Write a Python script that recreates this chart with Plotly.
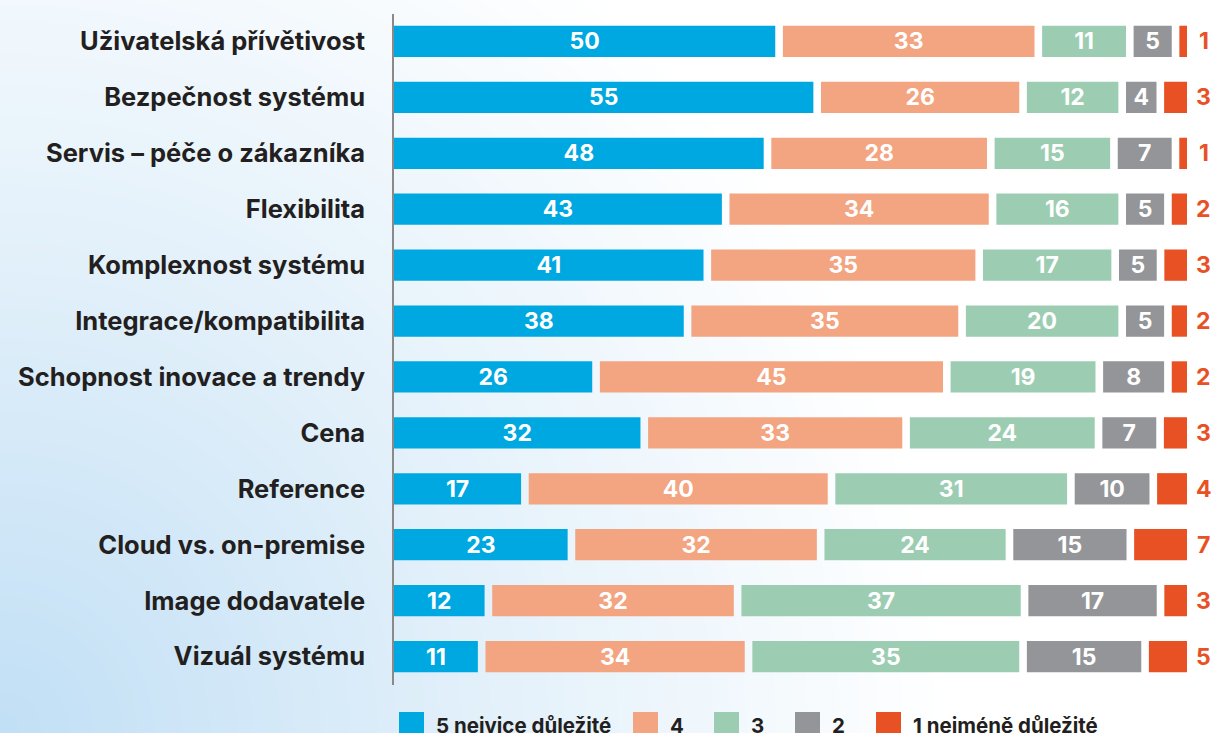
import numpy as np
import plotly.graph_objects as go

categories = ["Uživatelská přívětivost", "Bezpečnost systému", "Servis – péče o zákazníka",
              "Flexibilita", "Komplexnost systému", "Integrace/kompatibilita",
              "Schopnost inovace a trendy", "Cena", "Reference", "Cloud vs. on-premise",
              "Image dodavatele", "Vizuál systému"]
v5 = [50, 55, 48, 43, 41, 38, 26, 32, 17, 23, 12, 11]
v4 = [33, 26, 28, 34, 35, 35, 45, 33, 40, 32, 32, 34]
v3 = [11, 12, 15, 16, 17, 20, 19, 24, 31, 24, 37, 35]
v2 = [5, 4, 7, 5, 5, 5, 8, 7, 10, 15, 17, 15]
v1 = [1, 3, 1, 2, 3, 2, 2, 3, 4, 7, 3, 5]
series_names = ["5 nejvice důležité", "4", "3", "2", "1 nejméně důležité"]
colors = ["#00a8e1", "#f3a480", "#9ccdb2", "#949598", "#e85124"]

W, H = 1212, 733
GAP = 1.0
FONT = "Inter"
series = [v5, v4, v3, v2, v1]
totals = np.array(series).sum(axis=0)
XMAX = 100 + 4 * GAP

fig = go.Figure()

# background gradient (decoration)
gx = np.linspace(0, W, 80)
gy = np.linspace(0, H, 50)
X, Y = np.meshgrid(gx, gy)
Z = np.clip(np.sqrt(X**2 + (H - Y)**2) / 950, 0, 1)
fig.add_trace(go.Heatmap(x=gx, y=gy, z=Z, zsmooth="best", showscale=False, hoverinfo="skip",
                         colorscale=[[0, "#c1dff5"], [0.5, "#e2f0fa"], [1, "#ffffff"]],
                         xaxis="x", yaxis="y"))

base = np.zeros(len(categories))
for i, (vals, name, col) in enumerate(zip(series, series_names, colors)):
    vals = np.array(vals)
    w = vals * 100.0 / totals
    is_last = i == len(series) - 1
    fig.add_trace(go.Bar(
        y=categories, x=w, base=base, orientation="h", width=0.56, name=name,
        marker=dict(color=col, line=dict(width=0)),
        text=None if is_last else [str(v) for v in vals],
        textposition="inside", insidetextanchor="middle", textangle=0,
        textfont=dict(family=FONT, size=23, color="white", weight=700),
        showlegend=False, hoverinfo="skip", xaxis="x2", yaxis="y2"))
    base = base + w + GAP

# values of the last category, written to the right of the bars
for cat, v in zip(categories, v1):
    fig.add_annotation(xref="x2", yref="y2", x=XMAX - 0.001, y=cat, text=str(v),
                       xanchor="center", xshift=17, showarrow=False,
                       font=dict(family=FONT, size=23, color="#e85124", weight=700))

# manual legend (large square swatches)
legend_left = [399, 633, 714, 795, 876]
SW = 25
for name, col, lx in zip(series_names, colors, legend_left):
    fig.add_shape(type="rect", xref="paper", yref="paper",
                  x0=lx / W, x1=(lx + SW) / W, y0=1 - (712 + SW) / H, y1=1 - 712 / H,
                  fillcolor=col, line=dict(width=0), layer="above")
    fig.add_annotation(xref="paper", yref="paper", x=(lx + SW + 10) / W, y=1 - 711 / H,
                       xanchor="left", yanchor="top", text=name, showarrow=False,
                       font=dict(family=FONT, size=20.5, color="#231f20", weight=700))

x0, x1 = 394 / W, 1187 / W
y0, y1 = 1 - 684.5 / H, 1 - 13.5 / H

fig.update_layout(
    width=W, height=H, margin=dict(l=0, r=0, t=0, b=0),
    paper_bgcolor="white", plot_bgcolor="rgba(0,0,0,0)",
    barmode="overlay", showlegend=False,
    uniformtext=dict(minsize=23, mode="show"),
    xaxis=dict(domain=[0, 1], range=[0, W], visible=False, fixedrange=True),
    yaxis=dict(domain=[0, 1], range=[H, 0], visible=False, fixedrange=True),
    xaxis2=dict(domain=[x0, x1], range=[0, XMAX], visible=False, anchor="y2"),
    yaxis2=dict(domain=[y0, y1], anchor="x2", range=[11.5, -0.5], autorange=False,
                showline=True, linecolor="#8a8a8a", linewidth=1.5, ticks="",
                showgrid=False, ticklabelstandoff=22,
                tickfont=dict(family=FONT, size=25.5, color="#231f20", weight=700)),
)

fig.write_html("out.html", config={"displayModeBar": False},
               post_script="document.body.style.margin='0';document.body.style.padding='0';")
